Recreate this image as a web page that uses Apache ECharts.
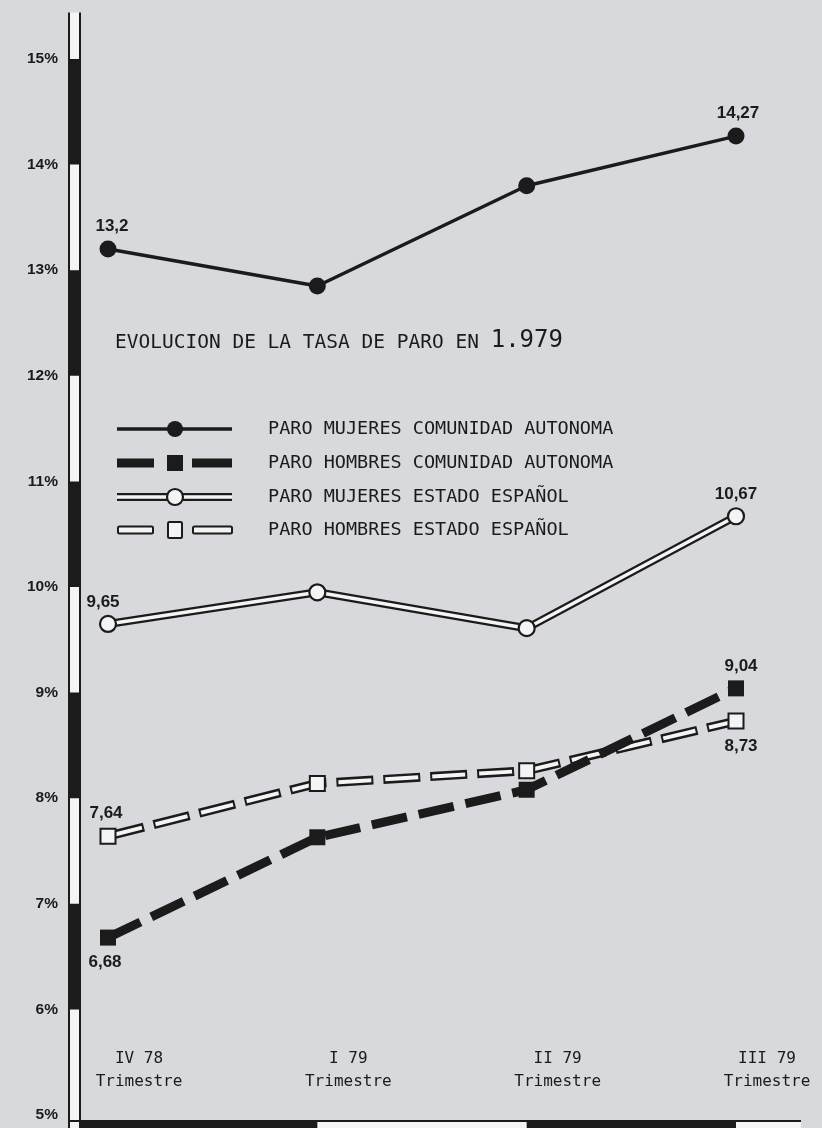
<!DOCTYPE html>
<html>
<head>
<meta charset="utf-8">
<script src="https://cdn.jsdelivr.net/npm/echarts@6/dist/echarts.min.js"></script>
<style>
html,body{margin:0;padding:0;background:#d7d9dc;}
#c{width:822px;height:1128px;}
</style>
</head>
<body>
<div id="c"></div>
<script>
// ---- data ----
const categories = ['IV 78', 'I 79', 'II 79', 'III 79'];
const periodWord = 'Trimestre';
const mujeresCA = [13.2, 12.85, 13.8, 14.27];   // PARO MUJERES COMUNIDAD AUTONOMA
const hombresCA = [6.68, 7.63, 8.08, 9.04];     // PARO HOMBRES COMUNIDAD AUTONOMA
const mujeresES = [9.65, 9.95, 9.61, 10.67];    // PARO MUJERES ESTADO ESPAÑOL
const hombresES = [7.64, 8.14, 8.26, 8.73];     // PARO HOMBRES ESTADO ESPAÑOL
const legendNames = [
  'PARO MUJERES COMUNIDAD AUTONOMA',
  'PARO HOMBRES COMUNIDAD AUTONOMA',
  'PARO MUJERES ESTADO ESPAÑOL',
  'PARO HOMBRES ESTADO ESPAÑOL'
];
const titleText = 'EVOLUCION DE LA TASA DE PARO EN ';
const titleYear = '1.979';
const yMin = 5, yMax = 15, yStep = 1;

// ---- styles ----
const INK = '#1b1b1b';
const WHITE = '#f4f4f4';
const MONO = 'DejaVu Sans Mono';
const BOLD = 'Liberation Sans';

const chart = echarts.init(document.getElementById('c'), null, {renderer: 'canvas'});

function lbl(pos, extra) {
  return Object.assign({
    show: true, position: pos, distance: 6,
    fontFamily: BOLD, fontWeight: 'bold', fontSize: 17, color: INK,
    formatter: p => String(p.value).replace('.', ',')
  }, extra || {});
}
function withLabels(arr, cfg) {
  return arr.map((v, i) => cfg[i] ? {value: v, label: cfg[i]} : {value: v, label: {show: false}});
}

const series = [
  // hombres Estado: outlined dashes
  {type: 'line', name: legendNames[3], data: hombresES, symbol: 'none', z: 2,
   lineStyle: {color: INK, width: 9, type: [37, 10], cap: 'butt'}, silent: true},
  {type: 'line', name: legendNames[3] + ' ', z: 3,
   data: withLabels(hombresES, {0: lbl('top', {offset: [-2, 0]}), 3: lbl('bottom', {offset: [5, 2]})}),
   symbol: 'rect', symbolSize: 15,
   itemStyle: {color: WHITE, borderColor: INK, borderWidth: 2, opacity: 1},
   lineStyle: {color: WHITE, width: 4, type: [33, 14], dashOffset: -2, cap: 'butt'}},
  // hombres Comunidad: thick black dashes
  {type: 'line', name: legendNames[1], z: 4,
   data: withLabels(hombresCA, {0: lbl('bottom', {offset: [-3, 2]}), 3: lbl('top', {offset: [5, 0]})}),
   symbol: 'rect', symbolSize: 16,
   itemStyle: {color: INK, borderColor: INK, borderWidth: 0, opacity: 1},
   lineStyle: {color: INK, width: 9, type: [36, 12], cap: 'butt'}},
  // mujeres Estado: double line
  {type: 'line', name: legendNames[2], data: mujeresES, symbol: 'none', z: 5,
   lineStyle: {color: INK, width: 8}, silent: true},
  {type: 'line', name: legendNames[2] + ' ', z: 6,
   data: withLabels(mujeresES, {0: lbl('top', {offset: [-5, 2]}), 3: lbl('top', {offset: [0, 2]})}),
   symbol: 'circle', symbolSize: 16,
   itemStyle: {color: WHITE, borderColor: INK, borderWidth: 2.2, opacity: 1},
   lineStyle: {color: WHITE, width: 3.5}},
  // mujeres Comunidad: solid line with filled dots
  {type: 'line', name: legendNames[0], z: 7,
   data: withLabels(mujeresCA, {0: lbl('top', {offset: [4, 0]}), 3: lbl('top', {offset: [2, 0]})}),
   symbol: 'circle', symbolSize: 17,
   itemStyle: {color: INK, borderWidth: 0, opacity: 1},
   lineStyle: {color: INK, width: 3.5}}
];

chart.setOption({
  animation: false,
  backgroundColor: '#d7d9dc',
  grid: {left: 108, right: 86, top: 59, bottom: 13, containLabel: false},
  xAxis: {
    type: 'category', data: categories, boundaryGap: false,
    axisLine: {show: false}, axisTick: {show: false}, splitLine: {show: false},
    axisLabel: {
      inside: true, margin: 22, interval: 0,
      formatter: v => v + '\n' + periodWord,
      fontFamily: MONO, fontSize: 16, color: INK, lineHeight: 23,
      padding: [0, 0, 0, 62], align: 'center'
    }
  },
  yAxis: {
    type: 'value', min: yMin, max: yMax, interval: yStep,
    axisLine: {show: false}, axisTick: {show: false}, splitLine: {show: false},
    axisLabel: {formatter: '{value}%', margin: 50, fontFamily: BOLD, fontWeight: 'bold',
      fontSize: 15.5, color: INK}
  },
  series: series
});

// ---- decorations: striped axes, title, legend ----
function px(i, v) { return chart.convertToPixel({gridIndex: 0}, [i, v]); }
function py(v) { return chart.convertToPixel({yAxisIndex: 0}, v); }

const g = [];
const barL = 69, barR = 80;
const yTop = py(15.44), yBot = 1128;
// vertical striped bar
g.push({type: 'rect', shape: {x: barL, y: yTop, width: barR - barL, height: yBot - yTop},
  style: {fill: WHITE}, z: 10});
for (let k = yMin; k < yMax; k++) {
  if (k % 2 === 0) {
    const a = py(k + 1), b = py(k);
    g.push({type: 'rect', shape: {x: barL, y: a, width: barR - barL, height: b - a},
      style: {fill: INK}, z: 11});
  }
}
g.push({type: 'line', shape: {x1: barL, y1: yTop, x2: barL, y2: yBot}, style: {stroke: INK, lineWidth: 2}, z: 12});
g.push({type: 'line', shape: {x1: barR, y1: yTop, x2: barR, y2: yBot}, style: {stroke: INK, lineWidth: 2}, z: 12});

// bottom striped bar
const baseY = py(yMin) + 6;
const xEnd = 801;
g.push({type: 'rect', shape: {x: barR, y: baseY, width: xEnd - barR, height: 20}, style: {fill: WHITE}, z: 10});
const c1 = px(1, yMin)[0], c2 = px(2, yMin)[0], c3 = px(3, yMin)[0];
g.push({type: 'rect', shape: {x: barR, y: baseY, width: c1 - barR, height: 20}, style: {fill: INK}, z: 11});
g.push({type: 'rect', shape: {x: c2, y: baseY, width: c3 - c2, height: 20}, style: {fill: INK}, z: 11});
g.push({type: 'line', shape: {x1: barL, y1: baseY, x2: xEnd, y2: baseY}, style: {stroke: INK, lineWidth: 2}, z: 12});

// title
g.push({type: 'text', x: 115, y: 341, z: 20, style: {
  text: '{a|' + titleText + '}{b|' + titleYear + '}',
  verticalAlign: 'middle',
  rich: {
    a: {fontFamily: MONO, fontSize: 19.5, fill: INK, verticalAlign: 'bottom'},
    b: {fontFamily: MONO, fontSize: 24, fill: INK, verticalAlign: 'bottom'}
  }
}});

// legend
const rows = [429, 463, 497, 530];
const lx1 = 117, lx2 = 232, lmx = 175, ltx = 268;
// row 1: solid line + filled dot
g.push({type: 'line', shape: {x1: lx1, y1: rows[0], x2: lx2, y2: rows[0]}, style: {stroke: INK, lineWidth: 3.5}, z: 20});
g.push({type: 'circle', shape: {cx: lmx, cy: rows[0], r: 8}, style: {fill: INK}, z: 21});
// row 2: thick dashes + filled square
g.push({type: 'rect', shape: {x: lx1, y: rows[1] - 4.5, width: 37, height: 9}, style: {fill: INK}, z: 20});
g.push({type: 'rect', shape: {x: lmx - 8, y: rows[1] - 8, width: 16, height: 16}, style: {fill: INK}, z: 20});
g.push({type: 'rect', shape: {x: 192, y: rows[1] - 4.5, width: lx2 - 192, height: 9}, style: {fill: INK}, z: 20});
// row 3: double line + open circle
g.push({type: 'line', shape: {x1: lx1, y1: rows[2], x2: lx2, y2: rows[2]}, style: {stroke: INK, lineWidth: 8}, z: 20});
g.push({type: 'line', shape: {x1: lx1, y1: rows[2], x2: lx2, y2: rows[2]}, style: {stroke: WHITE, lineWidth: 3.5}, z: 21});
g.push({type: 'circle', shape: {cx: lmx, cy: rows[2], r: 8}, style: {fill: WHITE, stroke: INK, lineWidth: 2.2}, z: 22});
// row 4: outlined dashes + open square
g.push({type: 'rect', shape: {x: lx1 + 1, y: rows[3] - 3.5, width: 35, height: 7, r: 1.5}, style: {fill: WHITE, stroke: INK, lineWidth: 2}, z: 20});
g.push({type: 'rect', shape: {x: lmx - 7, y: rows[3] - 8, width: 14, height: 16, r: 1.5}, style: {fill: WHITE, stroke: INK, lineWidth: 2}, z: 20});
g.push({type: 'rect', shape: {x: 193, y: rows[3] - 3.5, width: lx2 - 193, height: 7, r: 1.5}, style: {fill: WHITE, stroke: INK, lineWidth: 2}, z: 20});
legendNames.forEach((n, i) => {
  g.push({type: 'text', x: ltx, y: rows[i], z: 20, style: {
    text: n, fontFamily: MONO, fontSize: 18.5, fill: INK, verticalAlign: 'middle'}});
});

chart.setOption({graphic: g});
</script>
</body>
</html>
